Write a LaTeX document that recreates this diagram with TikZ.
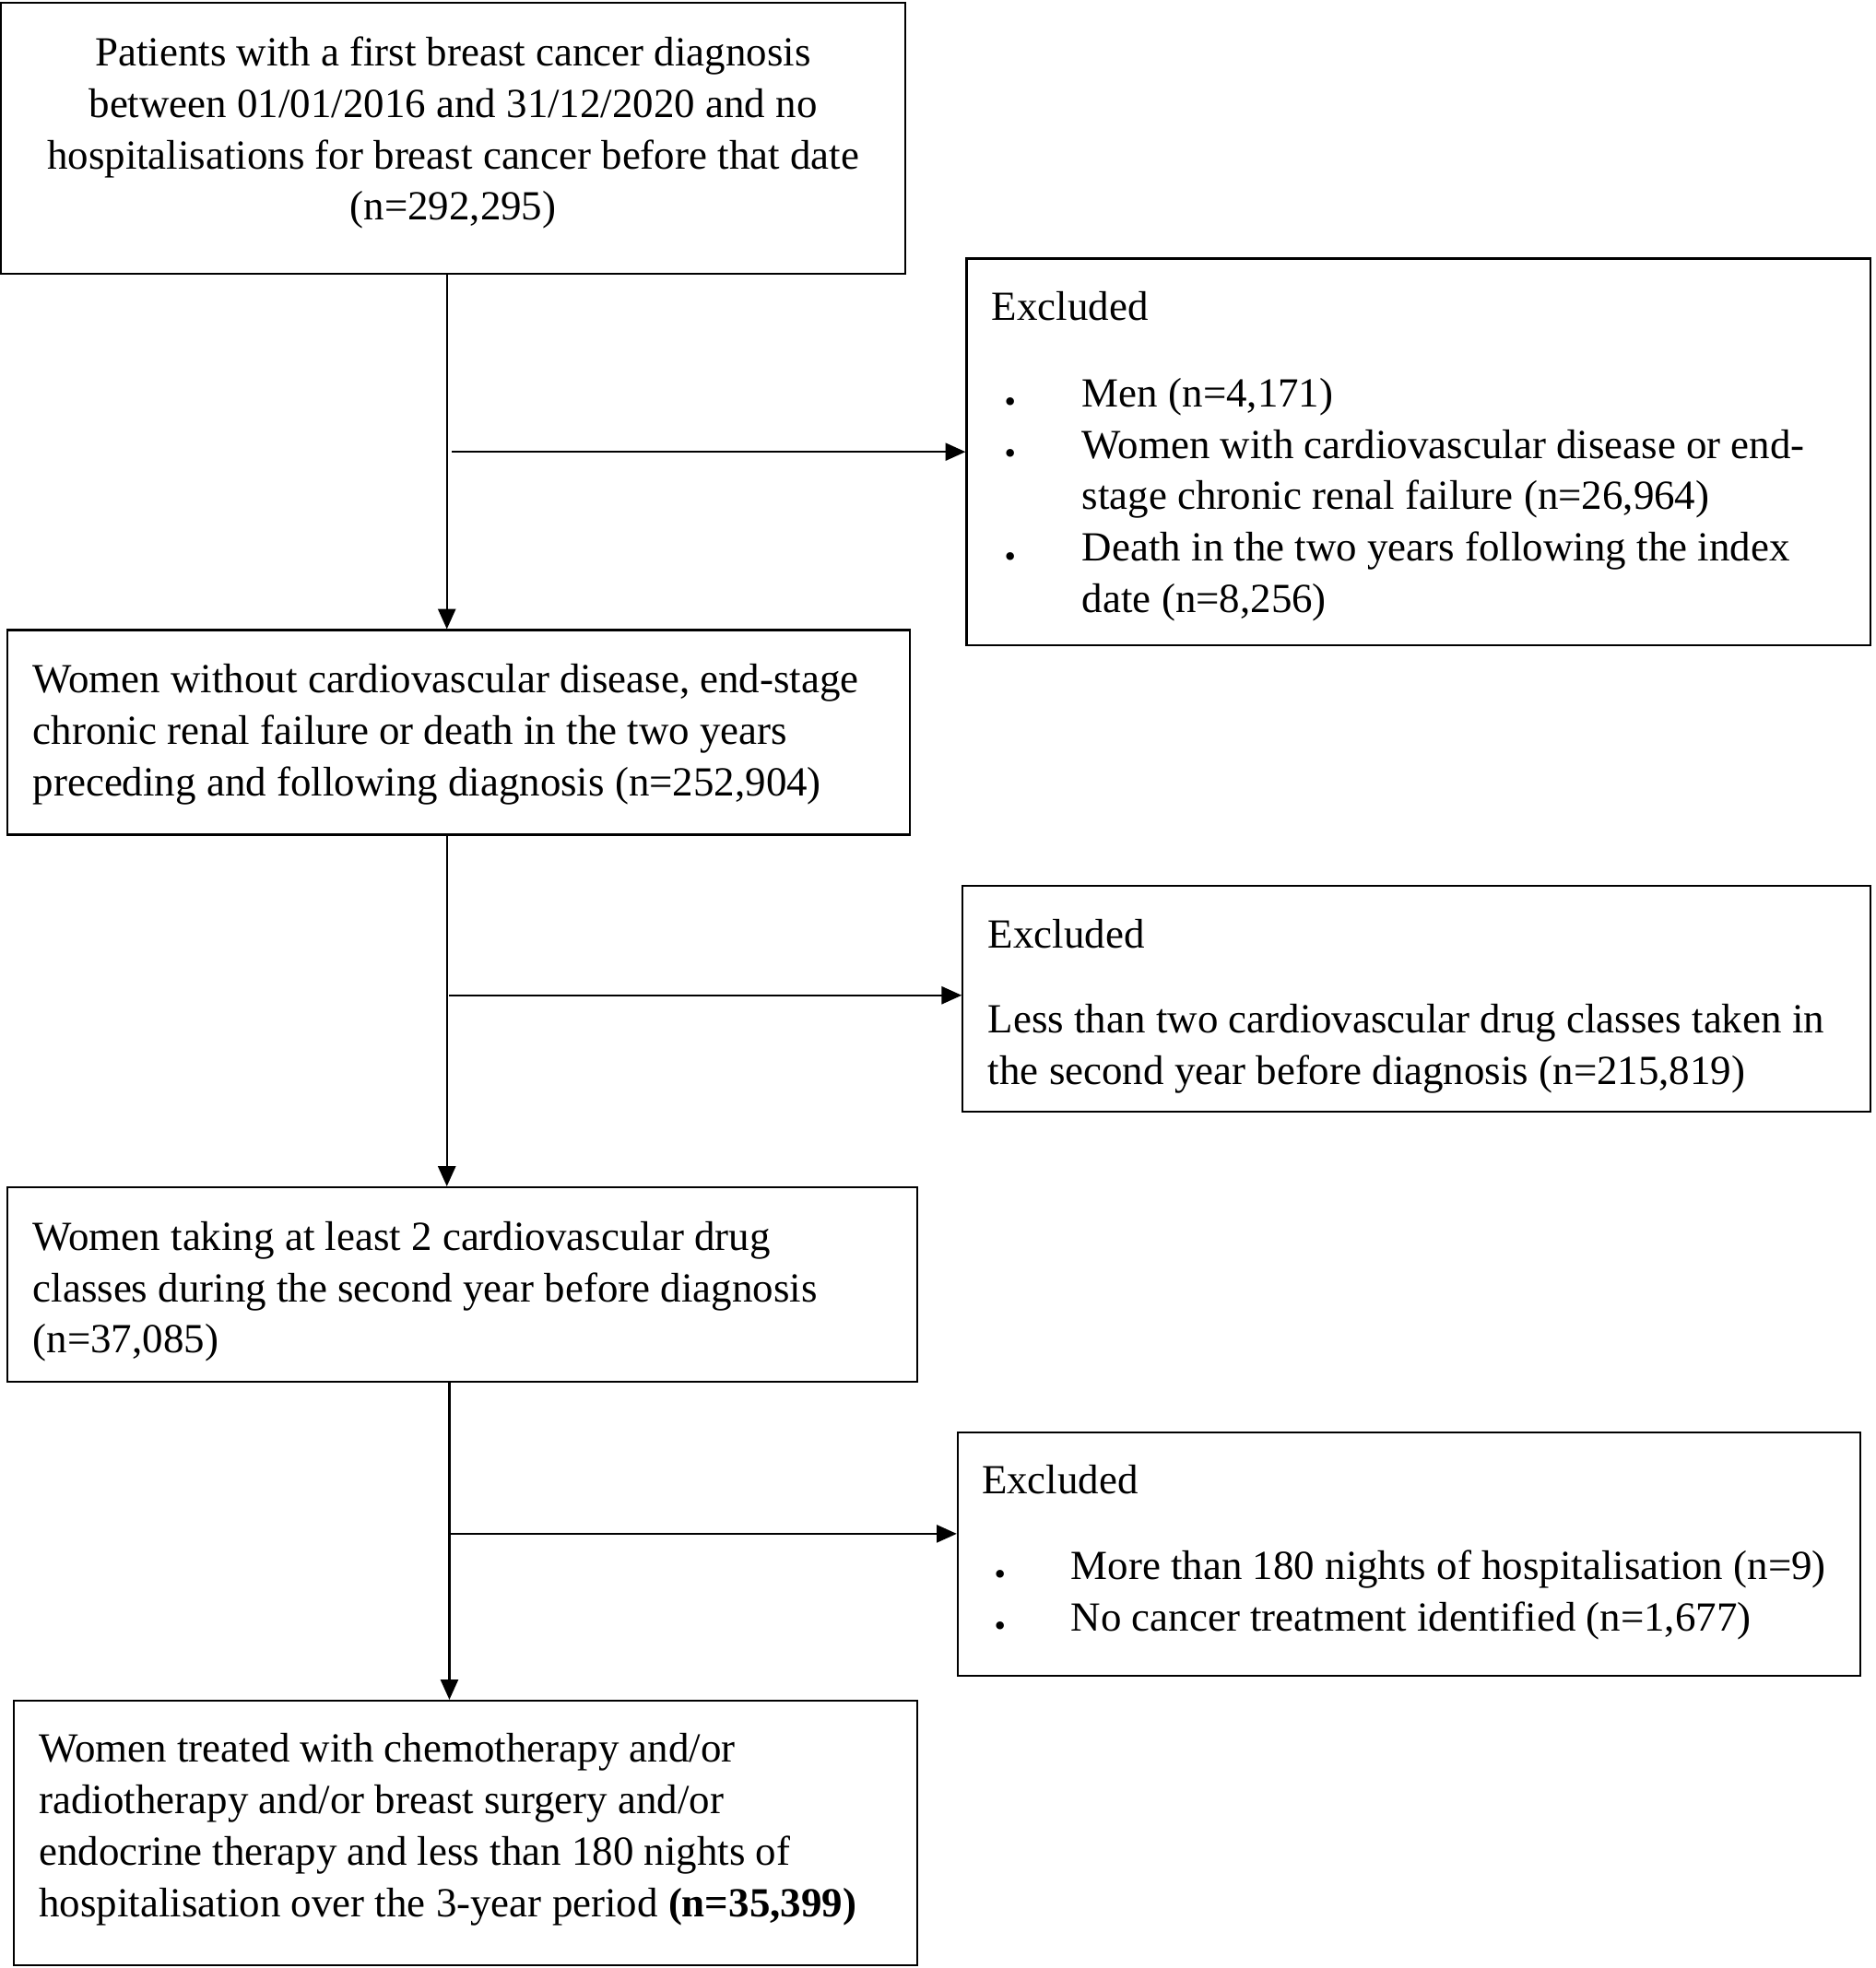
\documentclass[tikz,border=0pt]{standalone}
\usepackage{fontspec}
\setmainfont{Liberation Serif}
\usetikzlibrary{arrows.meta}
\begin{document}
\begin{tikzpicture}[x=1pt,y=-1pt,
  box/.style={draw,line width=1.6pt,inner sep=0pt},
  txt/.style={inner sep=0pt,anchor=north west,align=left,font=\fontsize{33}{41}\selectfont},
  ctxt/.style={inner sep=0pt,anchor=north,align=center,font=\fontsize{33}{41}\selectfont},
  arr/.style={line width=1.6pt,-{Triangle[length=16pt,width=14pt]}}]
\useasboundingbox (0,0) rectangle (1494,1568);
% boxes
\node[box,minimum width=720pt,minimum height=216pt] (b1) at (361,110) {};
\node[box,minimum width=720pt,minimum height=308pt] (e1) at (1130,360) {};
\node[box,minimum width=719pt,minimum height=163pt] (b2) at (365.5,583.5) {};
\node[box,minimum width=723pt,minimum height=180pt] (e2) at (1128.5,796) {};
\node[box,minimum width=725pt,minimum height=155pt] (b3) at (368.5,1023.5) {};
\node[box,minimum width=719pt,minimum height=194pt] (e3) at (1122.5,1238) {};
\node[box,minimum width=720pt,minimum height=211pt] (b4) at (371,1460.5) {};
% texts
\node[ctxt] (t1) at (361,29) {Patients with a first breast cancer diagnosis\\between 01/01/2016 and 31/12/2020 and no\\hospitalisations for breast cancer before that date\\(n=292,295)};
\node[txt] (t1e) at (790,232) {Excluded};
\node[txt] (t1l) at (862,301) {Men (n=4,171)\\Women with cardiovascular disease or end-\\stage chronic renal failure (n=26,964)\\Death in the two years following the index\\date (n=8,256)};
\node[txt,font=\fontsize{26}{41}\selectfont] (t1b) at (800,317) {\textbullet\\\textbullet\\~\\\textbullet};
\node[txt] (t2) at (26,529) {Women without cardiovascular disease, end-stage\\chronic renal failure or death in the two years\\preceding and following diagnosis (n=252,904)};
\node[txt] (t2e) at (787,732) {Excluded};
\node[txt] (t2l) at (787,800) {Less than two cardiovascular drug classes taken in\\the second year before diagnosis (n=215,819)};
\node[txt] (t3) at (26,973) {Women taking at least 2 cardiovascular drug\\classes during the second year before diagnosis\\(n=37,085)};
\node[txt] (t3e) at (782,1167) {Excluded};
\node[txt] (t3l) at (853,1235) {More than 180 nights of hospitalisation (n=9)\\No cancer treatment identified (n=1,677)};
\node[txt,font=\fontsize{26}{41}\selectfont] (t3b) at (792,1251) {\textbullet\\\textbullet};
\node[txt] (t4) at (31,1381) {Women treated with chemotherapy and/or\\radiotherapy and/or breast surgery and/or\\endocrine therapy and less than 180 nights of\\hospitalisation over the 3-year period \textbf{(n=35,399)}};
% connectors
\coordinate (c1) at (360,360);
\coordinate (c2) at (358,793);
\coordinate (c3) at (358,1222);
\draw[arr] (b1.south -| 356,0) -- (b2.north -| 356,0);
\draw[arr] (c1) -- (c1 -| e1.west);
\draw[arr] (b2.south -| 356,0) -- (b3.north -| 356,0);
\draw[arr] (c2) -- (c2 -| e2.west);
\draw[arr] (b3.south -| 358,0) -- (b4.north -| 358,0);
\draw[arr] (c3) -- (c3 -| e3.west);
\end{tikzpicture}
\end{document}
